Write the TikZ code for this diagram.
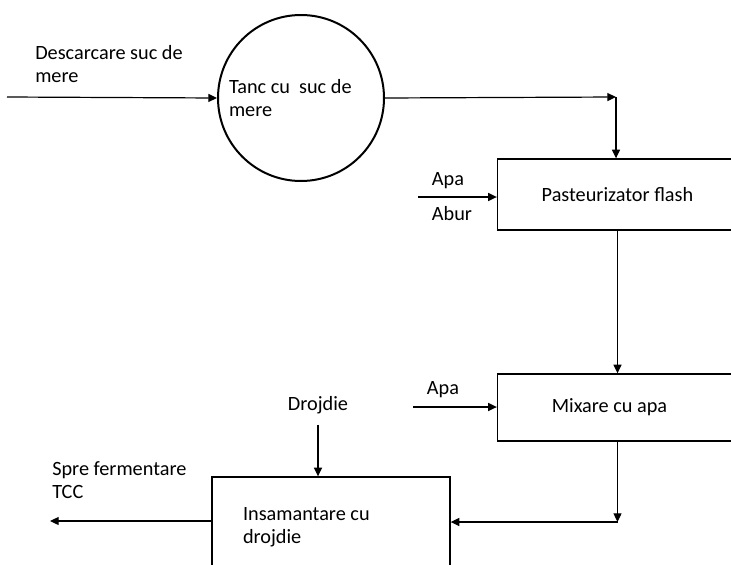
\documentclass[tikz,border=0pt]{standalone}
\usepackage{fontspec}
\setmainfont{Carlito}
\usepackage{tikz}
\usetikzlibrary{positioning,arrows.meta,calc}

\begin{document}
\begin{tikzpicture}[x=0.75pt, y=-0.75pt, font=\fontsize{15.2}{17.5}\selectfont,
  tank/.style={circle, draw=black, line width=1.5pt, minimum size=124.5pt, inner sep=0pt, align=flush left, text width=108pt},
  proc/.style={draw=black, line width=1pt, minimum width=180pt, inner sep=0pt, align=center},
  lab/.style={inner sep=0pt, align=left},
  arr/.style={-{Triangle[length=6.5pt, width=6pt]}, line width=0.9pt}]
\useasboundingbox (0,0) rectangle (731,564);
\clip (0,0) rectangle (731,564);
% units and circle
\node[tank] (tank) at (301,98) {Tanc cu~ suc de\\mere};
\node[proc, minimum height=53.25pt] (pf) at (617.5,194.5) {Pasteurizator flash};
\node[proc, minimum height=50.25pt] (mx) at (617.5,407.5) {\raisebox{3pt}{\hspace*{-12pt}Mixare cu apa}};
\node[proc, minimum width=178.5pt, minimum height=75pt, text width=132pt, align=flush left] (ins) at (331,527) {Insamantare cu\\drojdie};
% labels
\node[lab, anchor=west] (desc) at (35,64) {Descarcare suc de\\mere};
\node[lab] (apa1) at (448,181) {Apa};
\node[lab] (abur) at (452,214) {Abur};
\node[lab] (apa2) at (443,390) {Apa};
\node[lab] (drj) at (318,405) {Drojdie};
\node[lab, anchor=west] (spre) at (52,480) {Spre fermentare\\TCC};
% free ends
\coordinate (src) at (7,97);
\coordinate (j1) at (616,97);
\coordinate (aw) at (418,197);
\coordinate (aw2) at (413,407);
\coordinate (j2) at (617.5,522);
\coordinate (out) at (50,521);
% flows
\draw[arr] (src) -- (tank.west);
\draw[arr] (tank.east) -- (j1);
\draw[arr] (j1) -- (j1 |- pf.north);
\draw[arr] (aw) -- (aw -| pf.west);
\draw[arr] (pf.south) -- (mx.north);
\draw[arr] (aw2) -- (aw2 -| mx.west);
\draw[arr] (mx.south) -- (j2);
\draw[arr] (j2) -- (j2 -| ins.east);
\draw[arr, shorten <=8pt] (drj.south) -- (drj |- ins.north);
\draw[arr] (ins.west |- out) -- (out);
\end{tikzpicture}
\end{document}
